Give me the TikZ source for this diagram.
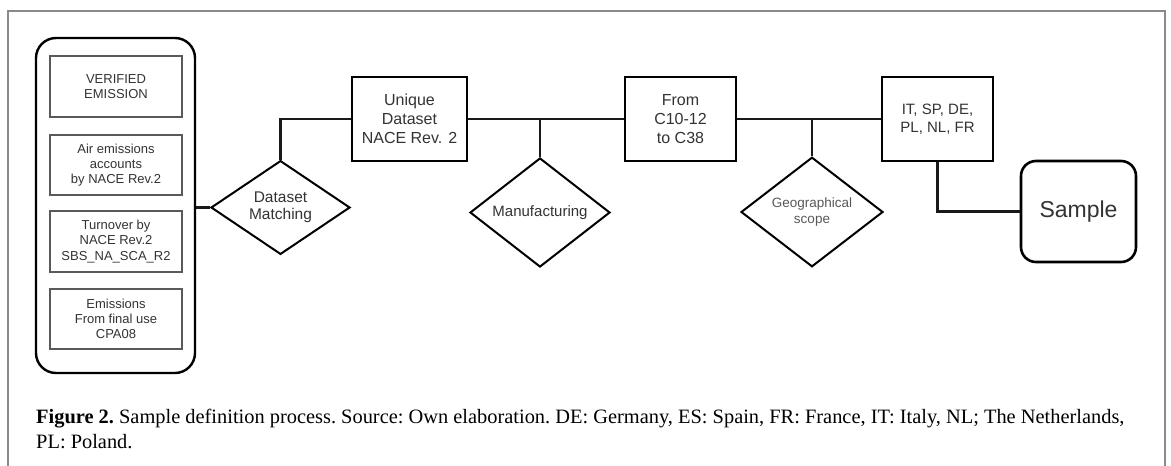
\documentclass[tikz,border=0pt]{standalone}
\usepackage{fontspec}
\setmainfont{Liberation Serif}
\newfontfamily\diag{Liberation Sans}
\usetikzlibrary{shapes.geometric}
\definecolor{txt}{HTML}{333333}
\definecolor{frm}{HTML}{8A8A8A}
\tikzset{
  mainbox/.style={draw=black, line width=2.8pt, inner sep=0pt, align=center, text=txt,
    font=\diag\fontsize{16}{19}\selectfont},
  innerbox/.style={draw=black!65, line width=1.1pt, inner sep=0pt, align=center, text=txt,
    minimum width=132pt, font=\diag\fontsize{13}{15.3}\selectfont},
  decision/.style={draw=black, line width=2pt, diamond, inner sep=0pt, align=center, text=txt},
  conn/.style={draw=black!90, line width=2.4pt},
  captext/.style={anchor=base west, inner sep=0pt, font=\frenchspacing\fontsize{20.4}{26}\selectfont},
}
\begin{document}
\begin{tikzpicture}[x=1pt,y=-1pt]
\useasboundingbox (0,0) rectangle (1171,466);
\fill[white] (0,0) rectangle (1171,466);
\draw[frm, line width=1.5pt] (8,470) -- (8,11) -- (1165,11) -- (1165,470);

% left container
\node[draw=black, line width=2.4pt, rounded corners=20pt, minimum width=159pt, minimum height=335pt, inner sep=0pt] (cont) at (115.5,205.5) {};
\node[innerbox, minimum height=61pt] (b1) at (116,86.5) {VERIFIED\\EMISSION};
\node[innerbox, minimum height=60pt] (b2) at (116,165) {Air emissions\\accounts\\by NACE Rev.2};
\node[innerbox, minimum height=61pt] (b3) at (116,241.5) {Turnover by\\NACE Rev.2\\SBS\_NA\_SCA\_R2};
\node[innerbox, minimum height=60pt] (b4) at (116,319) {Emissions\\From final use\\CPA08};

% decisions
\node[decision, minimum width=139pt, minimum height=89pt, font=\diag\fontsize{15.5}{17}\selectfont] (dm) at (280.5,207.5) {Dataset\\Matching};
\node[decision, minimum width=140pt, minimum height=91pt, font=\diag\fontsize{15}{17}\selectfont] (mf) at (540,212.5) {Manufacturing};
\node[decision, minimum width=142pt, minimum height=90pt, font=\diag\fontsize{13.5}{16.7}\selectfont, text=black!65] (gs) at (812,212) {Geographical\\scope};

% main boxes
\node[mainbox, minimum width=115pt, minimum height=84pt] (uq) at (409.5,119) {Unique\\Dataset\\NACE Rev. 2};
\node[mainbox, minimum width=111pt, minimum height=84pt] (fr) at (680.5,119) {From\\C10-12\\to C38};
\node[mainbox, minimum width=111pt, minimum height=84pt, font=\diag\fontsize{15}{18}\selectfont] (it) at (937.5,119) {IT, SP, DE,\\PL, NL, FR};
\node[mainbox, line width=2.6pt, rounded corners=15pt, minimum width=115pt, minimum height=101pt, font=\diag\fontsize{23}{26}\selectfont] (sm) at (1078.5,211.5) {Sample};

% connectors
\draw[conn] (dm.west) -- (dm.west -| cont.east);
\draw[conn] (dm.north) |- (uq.west);
\draw[conn] (uq.east) -- (fr.west);
\draw[conn] (mf.north) -- (mf.north |- uq.east);
\draw[conn] (fr.east) -- (it.west);
\draw[conn] (gs.north) -- (gs.north |- fr.east);
\draw[conn] (it.south) |- (sm.west);

% caption
\node[captext] (cap1) at (36,423) {\textbf{Figure 2.} Sample definition process. Source: Own elaboration. DE: Germany, ES: Spain, FR: France, IT: Italy, NL; The Netherlands,};
\node[captext] (cap2) at (36,448) {PL: Poland.};
\end{tikzpicture}
\end{document}
